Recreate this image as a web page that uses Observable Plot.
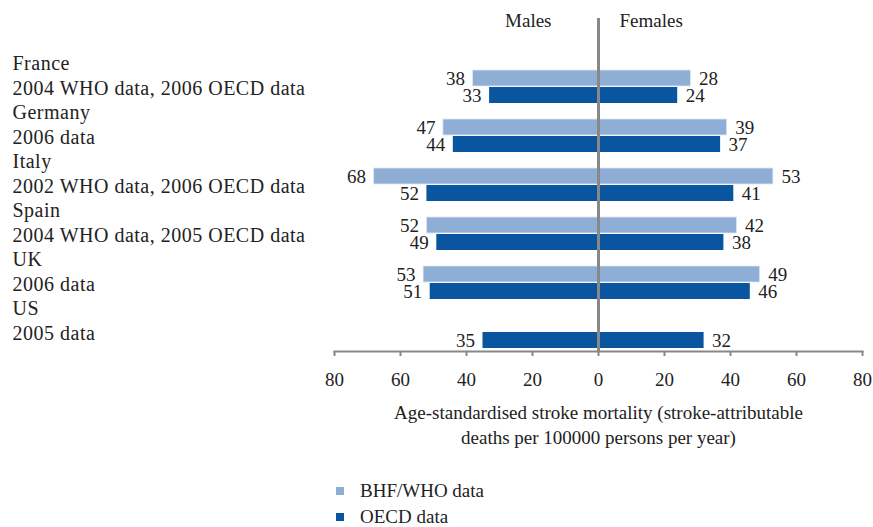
<!DOCTYPE html>
<html><head><meta charset="utf-8">
<script src="https://cdn.jsdelivr.net/npm/d3@7"></script>
<script src="https://cdn.jsdelivr.net/npm/@observablehq/plot@0.6"></script>
<style>
body{margin:0;background:#fff;font-family:"Liberation Serif",serif;color:#222;}
#legend{margin-left:336px;margin-top:18px;font-size:19px;line-height:26px;}
#legend .item{display:flex;align-items:center;}
#legend .sw{width:8px;height:8px;margin-right:16px;}
.country-labels{letter-spacing:0.5px;}
</style></head><body><div id="chart"></div><div id="legend"></div>
<script>
const countries = ["France","Germany","Italy","Spain","UK","US"];
const countryNotes = ["2004 WHO data, 2006 OECD data","2006 data","2002 WHO data, 2006 OECD data","2004 WHO data, 2005 OECD data","2006 data","2005 data"];
const seriesNames = ["BHF/WHO data","OECD data"];
const seriesColors = ["#8FAED6","#0A55A0"];
const bhfMales = [38,47,68,52,53,null];
const bhfFemales = [28,39,53,42,49,null];
const oecdMales = [33,44,52,49,51,35];
const oecdFemales = [24,37,41,38,46,32];
const xTicks = [-80,-60,-40,-20,0,20,40,60,80];
const sexLabels = ["Males","Females"];
const axisTitle = "Age-standardised stroke mortality (stroke-attributable\ndeaths per 100000 persons per year)";

const rows = [];
countries.forEach((c,i)=>{
  [[seriesNames[0],bhfMales[i],bhfFemales[i]],[seriesNames[1],oecdMales[i],oecdFemales[i]]].forEach(([s,m,f])=>{
    if(m!=null) rows.push({country:c,series:s,sex:"M",value:m,x:-m});
    if(f!=null) rows.push({country:c,series:s,sex:"F",value:f,x:f});
  });
});
const bhf = rows.filter(d=>d.series===seriesNames[0]);
const oecd = rows.filter(d=>d.series===seriesNames[1]);
const labelRows = countries.map((c,i)=>({country:c,text:c+"\n"+countryNotes[i]}));
const font = "Liberation Serif";

const chart = Plot.plot({
  width:873, height:460,
  marginLeft:334, marginRight:11, marginTop:18, marginBottom:109,
  style:{fontFamily:font, fontSize:"19px", color:"#222", background:"#fff"},
  x:{domain:[-80,80], axis:null},
  y:{domain:countries, type:"band", range:[68,351], paddingInner:0.32, paddingOuter:0, axis:null},
  marks:[
    Plot.barX(bhf,{x1:0,x2:"x",y:"country",fill:seriesColors[0],stroke:"#dfe8f3",strokeWidth:0.8,insetBottom:17}),
    Plot.barX(oecd,{x1:0,x2:"x",y:"country",fill:seriesColors[1],insetTop:17}),
    Plot.text(bhf.filter(d=>d.sex==="M"),{x:"x",y:"country",text:"value",textAnchor:"end",dx:-8,dy:-8.5,fontSize:19}),
    Plot.text(bhf.filter(d=>d.sex==="F"),{x:"x",y:"country",text:"value",textAnchor:"start",dx:8,dy:-8.5,fontSize:19}),
    Plot.text(oecd.filter(d=>d.sex==="M"),{x:"x",y:"country",text:"value",textAnchor:"end",dx:-8,dy:8.5,fontSize:19}),
    Plot.text(oecd.filter(d=>d.sex==="F"),{x:"x",y:"country",text:"value",textAnchor:"start",dx:8,dy:8.5,fontSize:19}),
    Plot.frame({anchor:"bottom",stroke:"#888",strokeWidth:2}),
    Plot.axisX({ticks:xTicks,tickFormat:d=>Math.abs(d),tickSize:5,tickPadding:16,stroke:"#888",fill:"#222",strokeWidth:2,fontSize:19,label:null}),
    Plot.ruleX([0],{stroke:"#888",strokeWidth:3}),
    Plot.text(labelRows,{y:"country",text:"text",frameAnchor:"left",textAnchor:"start",dx:-322,dy:-13,lineHeight:1.25,fontSize:20,fill:"#222",className:"country-labels"}),
    Plot.text([sexLabels[0]],{x:0,frameAnchor:"top",textAnchor:"end",dx:-47,dy:-5,fontSize:19,fill:"#222"}),
    Plot.text([sexLabels[1]],{x:0,frameAnchor:"top",textAnchor:"start",dx:21,dy:-5,fontSize:19,fill:"#222"}),
    Plot.text([axisTitle],{x:0,frameAnchor:"bottom",lineAnchor:"top",dy:50,lineHeight:1.32,fontSize:19,fill:"#222"})
  ]
});
document.getElementById("chart").append(chart);
const lg = document.getElementById("legend");
seriesNames.forEach((s,i)=>{
  const it=document.createElement("div");it.className="item";
  const sw=document.createElement("span");sw.className="sw";sw.style.background=seriesColors[i];
  it.append(sw, document.createTextNode(s)); lg.append(it);
});
</script></body></html>
